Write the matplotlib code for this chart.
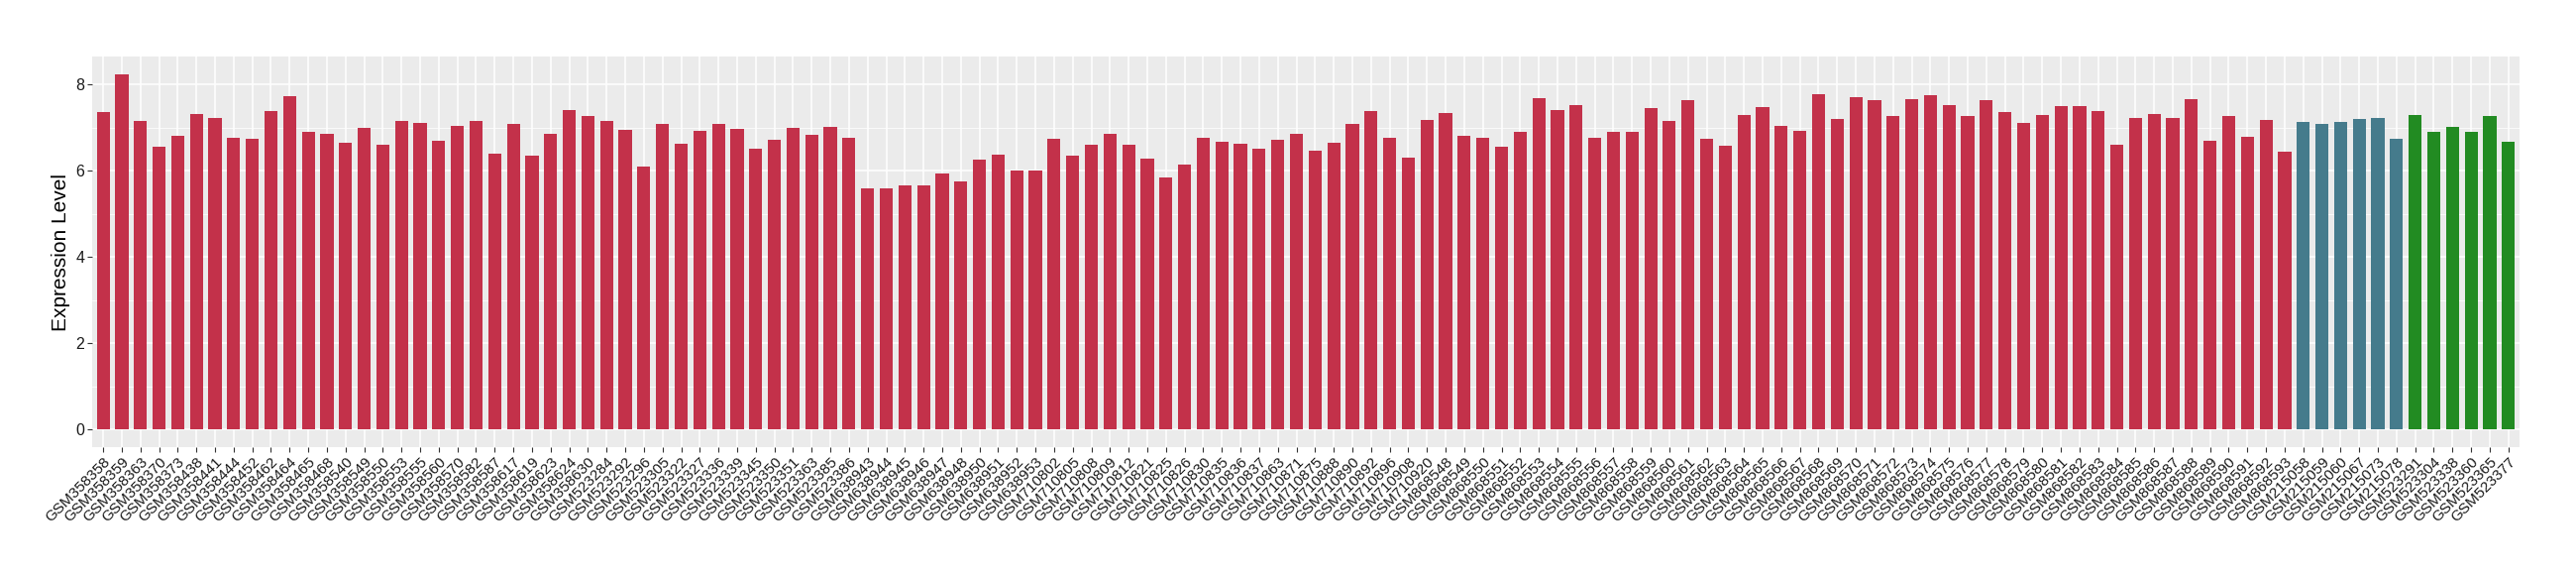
import matplotlib
matplotlib.use("Agg")
import matplotlib.pyplot as plt
from matplotlib.ticker import MultipleLocator

plt.rcParams['font.family'] = ['Liberation Sans', 'DejaVu Sans']

# sample ids, grouped by series
ids_358 = ["358358", "358359", "358363", "358370", "358373", "358438", "358441",
           "358444", "358452", "358462", "358464", "358465", "358468", "358540",
           "358549", "358550", "358553", "358555", "358560", "358570", "358582",
           "358587", "358617", "358619", "358623", "358624", "358630"]
ids_523 = ["523284", "523292", "523296", "523305", "523322", "523327", "523336",
           "523339", "523345", "523350", "523351", "523363", "523385", "523386"]
ids_638 = ["638943", "638944", "638945", "638946", "638947", "638948", "638950",
           "638951", "638952", "638953"]
ids_710 = ["710802", "710805", "710808", "710809", "710812", "710821", "710825",
           "710826", "710830", "710835", "710836", "710837", "710863", "710871",
           "710875", "710888", "710890", "710892", "710896", "710908", "710920"]
ids_868 = [str(n) for n in range(868548, 868594)]
ids_blue = ["215058", "215059", "215060", "215067", "215073", "215078"]
ids_green = ["523291", "523304", "523338", "523360", "523365", "523377"]

red_values = [
    7.37, 8.24, 7.16, 6.56, 6.82, 7.32, 7.23, 6.77, 6.75, 7.39, 7.74, 6.90, 6.86,
    6.66, 7.00, 6.61, 7.16, 7.12, 6.70, 7.04, 7.16, 6.40, 7.09, 6.35, 6.86, 7.41,
    7.27, 7.16, 6.95, 6.10, 7.09, 6.63, 6.93, 7.09, 6.97, 6.51, 6.72, 7.00, 6.84,
    7.02, 6.77, 5.59, 5.59, 5.66, 5.66, 5.94, 5.75, 6.26, 6.38, 6.01, 6.01, 6.74,
    6.35, 6.61, 6.86, 6.61, 6.28, 5.85, 6.15, 6.77, 6.67, 6.63, 6.51, 6.72, 6.86,
    6.47, 6.65, 7.09, 7.39, 6.77, 6.31, 7.18, 7.34, 6.81, 6.77, 6.56, 6.90, 7.69,
    7.41, 7.52, 6.77, 6.90, 6.90, 7.46, 7.16, 7.64, 6.74, 6.58, 7.30, 7.48, 7.04,
    6.93, 7.78, 7.20, 7.71, 7.64, 7.27, 7.66, 7.75, 7.52, 7.27, 7.64, 7.36, 7.11,
    7.30, 7.50, 7.50, 7.39, 6.61, 7.23, 7.32, 7.23, 7.66, 6.70, 7.27, 6.79, 7.18,
    6.44]
blue_values = [7.13, 7.09, 7.13, 7.20, 7.23, 6.74]
green_values = [7.30, 6.90, 7.02, 6.90, 7.27, 6.67]

red_ids = ids_358 + ids_523 + ids_638 + ids_710 + ids_868
samples = ["GSM" + s for s in red_ids + ids_blue + ids_green]
values = red_values + blue_values + green_values
colors = (["#C3314A"] * len(red_values) + ["#457B8C"] * len(blue_values)
          + ["#228B22"] * len(green_values))

fig = plt.figure(figsize=(26, 5.8), dpi=100)
ax = fig.add_axes([0.0357, 0.2219, 0.9424, 0.6795])
ax.set_facecolor("#EBEBEB")

x = list(range(len(samples)))
ax.bar(x, values, width=0.7, color=colors, zorder=3)

ax.set_xlim(-0.6, len(samples) - 0.4)
ax.set_ylim(-0.41, 8.65)
ax.yaxis.set_major_locator(MultipleLocator(2))
ax.yaxis.set_minor_locator(MultipleLocator(1))

ax.grid(which="major", color="white", linewidth=1.1, zorder=1)
ax.grid(which="minor", axis="y", color="white", linewidth=0.55, zorder=1)

ax.set_xticks(x)
ax.set_xticklabels(samples, rotation=45, ha="right", rotation_mode="anchor",
                   fontsize=11, color="#1A1A1A")
ax.tick_params(axis="both", which="major", length=3.5, width=0.8,
               color="#333333", labelsize=11, pad=2)
ax.tick_params(axis="y", labelcolor="#1A1A1A", labelsize=11.5)
ax.tick_params(which="minor", length=0)

for side in ax.spines.values():
    side.set_visible(False)

ax.set_ylabel("Expression Level", fontsize=15, labelpad=4)

fig.savefig("out.png", dpi=100, facecolor="white")
